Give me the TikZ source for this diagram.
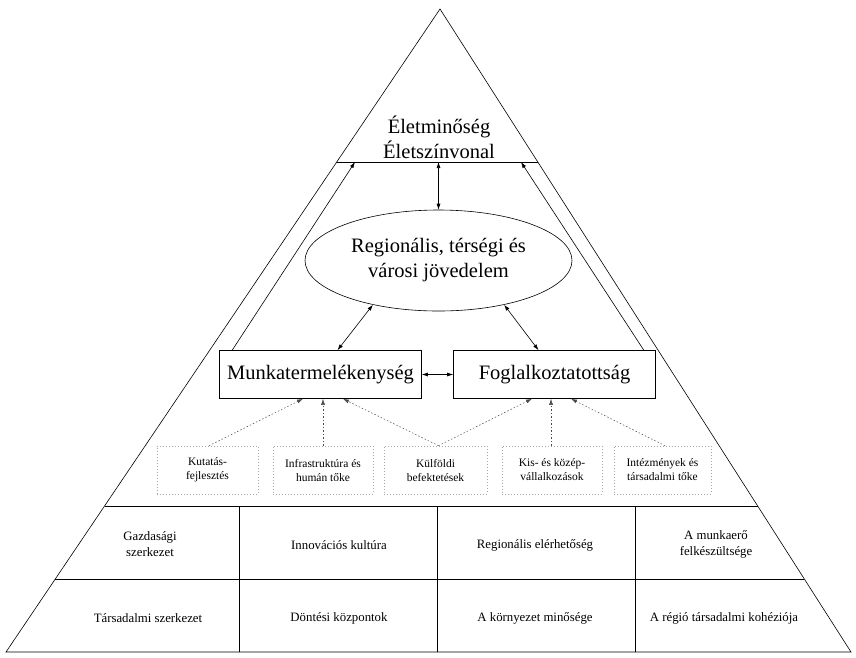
\documentclass[tikz,border=0pt]{standalone}
\usepackage{fontspec}
\setmainfont{Liberation Serif}
\usetikzlibrary{shapes.geometric,arrows.meta,calc}

\begin{document}
\begin{tikzpicture}[x=1pt, y=-1pt, line width=0.6pt,
	big/.style = {font=\fontsize{20.5}{25}\selectfont, align=center},
	box/.style = {draw, big, minimum width=202pt, minimum height=48pt, inner sep=0pt},
	onetip/.style = {-{Latex[length=6pt,width=4pt]}},
	dbl/.style = {{Latex[length=6pt,width=4pt]}-{Latex[length=6pt,width=4pt]}},
	dotarrow/.style = {onetip, gray!60!black, dash pattern=on 1.5pt off 2pt, line width=0.5pt},
	small/.style = {draw=gray!70, dash pattern=on 1pt off 2pt, font=\fontsize{11.5}{14}\selectfont, align=center, minimum height=48pt, inner sep=0pt},
	cell/.style = {font=\fontsize{12.8}{16}\selectfont, align=center}]
		\useasboundingbox (0,0) rectangle (856,657);
		\coordinate (apex) at (440,9);
		\coordinate (bl) at (6,652);
		\coordinate (br) at (851,652);
		
		\coordinate (t1) at ($(apex)!0.238!(bl)$);
		\coordinate (t2) at ($(apex)!0.238!(br)$);
		\coordinate (g1) at ($(apex)!0.773!(bl)$);
		\coordinate (g2) at ($(apex)!0.773!(br)$);
		\coordinate (h1) at ($(apex)!0.8865!(bl)$);
		\coordinate (h2) at ($(apex)!0.8865!(br)$);
		
		\draw (apex) -- (bl) -- (br) -- cycle;
		\draw (t1) -- (t2);
		\draw (g1) -- (g2);
		\draw (h1) -- (h2);
		\foreach \x in {239,437,635}
			\draw (\x,506) -- (\x,652);
		
		\node[big] (elet) at (439,137) {Életminőség\\Életszínvonal};
		\node[draw, ellipse, big, minimum width=267pt, minimum height=101pt, inner sep=0pt] (jov) at (438.5,260.5) {Regionális, térségi és\\városi jövedelem};
		\node[box] (munka) at (320.5,374.5) {Munkatermelékenység};
		\node[box] (fogl) at (554.5,374.5) {Foglalkoztatottság};
		
		\coordinate (tm) at (438.5,162);
		\coordinate (al) at (355,162);
		\coordinate (ar) at (521,162);
		
		\draw[dbl] (tm) -- (jov.north);
		\draw[onetip] ([xshift=13pt]munka.north west) -- (al);
		\draw[onetip] ([xshift=-12pt]fogl.north east) -- (ar);
		\draw[dbl] (jov.214) -- ([xshift=17pt]munka.north);
		\draw[dbl] (jov.326) -- ([xshift=-16pt]fogl.north);
		\draw[dbl] (munka) -- (fogl);
		
		\node[small, minimum width=101pt] (kf) at (207.5,470) {Kutatás-\\fejlesztés};
		\node[small, minimum width=100pt] (infra) at (323,470) {Infrastruktúra és\\humán tőke};
		\node[small, minimum width=103pt] (kulf) at (435.5,470) {Külföldi\\befektetések};
		\node[small, minimum width=100pt] (kkv) at (552,470) {Kis- és közép-\\vállalkozások};
		\node[small, minimum width=97pt] (intez) at (662.5,470) {Intézmények és\\társadalmi tőke};
		
		\draw[dotarrow] ([xshift=1.5pt]kf.north) -- ([xshift=-17.5pt]munka.south);
		\draw[dotarrow] (infra.north) -- ([xshift=2.5pt]munka.south);
		\draw[dotarrow] ([xshift=3pt]kulf.north) -- ([xshift=22.5pt]munka.south);
		\draw[dotarrow] ([xshift=3pt]kulf.north) -- ([xshift=-22.5pt]fogl.south);
		\draw[dotarrow] ([xshift=-1pt]kkv.north) -- ([xshift=-3.5pt]fogl.south);
		\draw[dotarrow] ([xshift=2.5pt]intez.north) -- ([xshift=16.5pt]fogl.south);
		
		\node[cell] (c1) at (150,544) {Gazdasági\\szerkezet};
		\node[cell] (c2) at (339,545) {Innovációs kultúra};
		\node[cell] (c3) at (535,545) {Regionális elérhetőség};
		\node[cell] (c4) at (716,544) {A munkaerő\\felkészültsége};
		\node[cell] (c5) at (148,618) {Társadalmi szerkezet};
		\node[cell] (c6) at (339,618) {Döntési központok};
		\node[cell] (c7) at (535,618) {A környezet minősége};
		\node[cell] (c8) at (724,618) {A régió társadalmi kohéziója};
	\end{tikzpicture}
\end{document}
